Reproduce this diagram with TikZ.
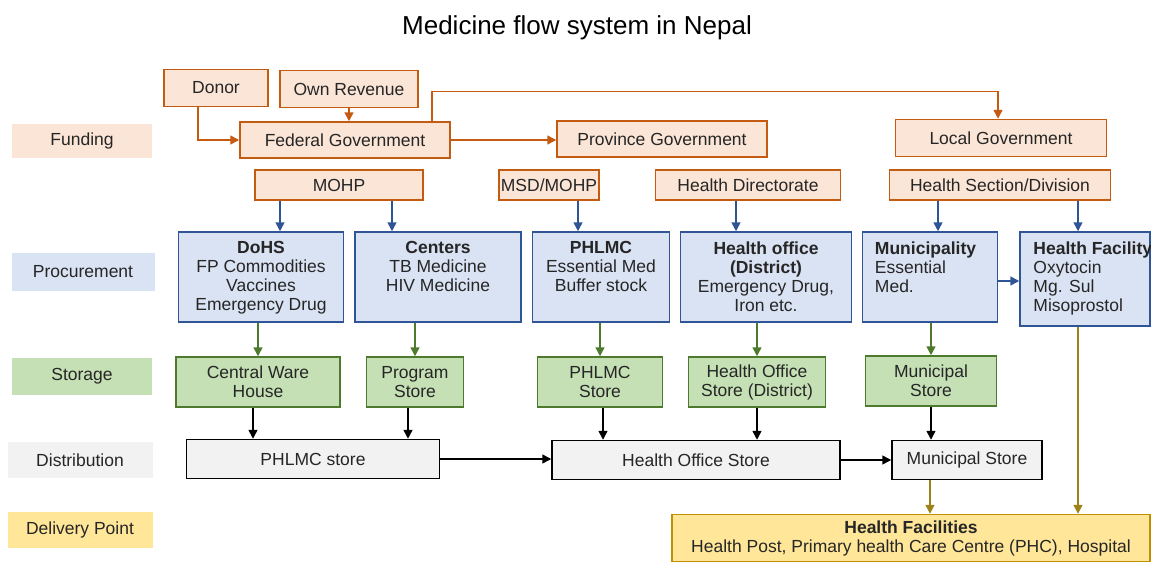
\documentclass[tikz,border=0pt]{standalone}
\usepackage{fontspec}
\setmainfont{Liberation Sans}
\usetikzlibrary{arrows.meta}
\definecolor{fundfill}{HTML}{FBE5D6}
\definecolor{fundline}{HTML}{C55A11}
\definecolor{procfill}{HTML}{DAE3F3}
\definecolor{procline}{HTML}{2F5597}
\definecolor{storfill}{HTML}{C5E0B4}
\definecolor{storline}{HTML}{4E7A2E}
\definecolor{distfill}{HTML}{F2F2F2}
\definecolor{delivfill}{HTML}{FFE699}
\definecolor{delivline}{HTML}{BF9000}
\definecolor{olive}{HTML}{9C8317}
\definecolor{ink}{HTML}{262626}
\begin{document}
\begin{tikzpicture}[x=1pt,y=-1pt,
	>={Triangle[length=9pt,width=9pt]},
	txt/.style={font=\fontsize{17.5}{19}\selectfont,text=ink,align=center,inner sep=0pt},
	box/.style={txt,draw,line width=1.5pt},
	rowname/.style={txt,fill=#1,inner sep=0pt},
	fund/.style={box,draw=fundline,fill=fundfill},
	proc/.style={box,draw=procline,fill=procfill},
	stor/.style={box,draw=storline,fill=storfill},
	dist/.style={box,draw=black,fill=distfill},
	deliv/.style={box,draw=delivline,fill=delivfill},
	fundarrow/.style={->,fundline,line width=1.5pt},
	procarrow/.style={->,procline,line width=1.5pt},
	storarrow/.style={->,storline,line width=1.5pt},
	distarrow/.style={->,black,line width=1.5pt},
	delivarrow/.style={->,olive,line width=1.5pt}]
	\useasboundingbox (0,0) rectangle (1151,562);
	%title
	\node[text=black] (title) at (577,28) {\fontsize{26}{30}\selectfont Medicine flow system in Nepal};
	%row names
	\node[rowname=fundfill,minimum width=140pt,minimum height=34pt] (funding) at (82,141) {Funding};
	\node[rowname=procfill,minimum width=143pt,minimum height=38pt] (procurement) at (83,272) {Procurement};
	\node[rowname=storfill,minimum width=140pt,minimum height=37pt] (storage) at (82,376) {Storage};
	\node[rowname=distfill,minimum width=145pt,minimum height=36pt] (distribution) at (80,460) {Distribution};
	\node[rowname=delivfill,minimum width=145pt,minimum height=36pt] (delivery) at (80,530) {Delivery Point};
	%funding
	\node[fund,minimum width=104pt,minimum height=37pt] (donor) at (216,88) {Donor};
	\node[fund,minimum width=138pt,minimum height=37pt] (ownrev) at (349,89) {Own Revenue};
	\node[fund,minimum width=210pt,minimum height=36pt] (federal) at (345,140) {Federal Government};
	\node[fund,minimum width=210pt,minimum height=36pt] (province) at (662,139) {Province Government};
	\node[fund,minimum width=211pt,minimum height=37pt] (localgov) at (1001,138) {Local Government};
	\node[fund,minimum width=168pt,minimum height=30pt] (mohp) at (339,185) {MOHP};
	\node[fund,minimum width=100pt,minimum height=30pt] (msd) at (549,185) {MSD/MOHP};
	\node[fund,minimum width=185pt,minimum height=30pt] (hdir) at (748,185) {Health Directorate};
	\node[fund,minimum width=221pt,minimum height=30pt] (hsec) at (1000,185) {Health Section/Division};
	\draw[fundarrow] ([xshift=-18pt]donor.south) |- (federal.west);
	\draw[fundarrow] (ownrev.south) -- (ownrev.south |- federal.north);
	\draw[fundarrow] (federal.east) -- (federal.east -| province.west);
	\draw[fundarrow] ([xshift=87pt]federal.north) -- ++(0,-30) -| ([xshift=-3pt]localgov.north);
	%procurement
	\node[proc,minimum width=165pt,minimum height=90pt] (dohs) at (261,277) {};
	\node[txt,anchor=north] at ([yshift=-10pt]dohs.north) {\textbf{DoHS}\\FP Commodities\\Vaccines\\Emergency Drug};
	\node[proc,minimum width=166pt,minimum height=90pt] (centers) at (438,277) {};
	\node[txt,anchor=north] at ([yshift=-10pt]centers.north) {\textbf{Centers}\\TB Medicine\\HIV Medicine};
	\node[proc,minimum width=137pt,minimum height=90pt] (phlmc) at (601,277) {};
	\node[txt,anchor=north] at ([yshift=-10pt]phlmc.north) {\textbf{PHLMC}\\Essential Med\\Buffer stock};
	\node[proc,minimum width=171pt,minimum height=90pt] (hoffice) at (766,277) {};
	\node[txt,anchor=north] at ([yshift=-10pt]hoffice.north) {\textbf{Health office}\\\textbf{(District)}\\Emergency Drug,\\Iron etc.};
	\node[proc,minimum width=135pt,minimum height=90pt] (munic) at (930,277) {};
	\node[txt,align=left,anchor=north west] at ([xshift=13pt,yshift=-10pt]munic.north west) {\textbf{Municipality}\\Essential\\Med.};
	\node[proc,minimum width=130pt,minimum height=94pt] (hfac) at (1085,279) {};
	\node[txt,align=left,anchor=north west] at ([xshift=14pt,yshift=-10pt]hfac.north west) {\textbf{Health Facility}\\Oxytocin\\Mg. Sul\\Misoprostol};
	\draw[procarrow] ([xshift=19pt]dohs.north |- mohp.south) -- ([xshift=19pt]dohs.north);
	\draw[procarrow] ([xshift=-46pt]centers.north |- mohp.south) -- ([xshift=-46pt]centers.north);
	\draw[procarrow] ([xshift=-23pt]phlmc.north |- msd.south) -- ([xshift=-23pt]phlmc.north);
	\draw[procarrow] ([xshift=-30pt]hoffice.north |- hdir.south) -- ([xshift=-30pt]hoffice.north);
	\draw[procarrow] ([xshift=8pt]munic.north |- hsec.south) -- ([xshift=8pt]munic.north);
	\draw[procarrow] ([xshift=-7pt]hfac.north |- hsec.south) -- ([xshift=-7pt]hfac.north);
	\draw[procarrow] ([yshift=-4pt]munic.east) -- ([yshift=-4pt]munic.east -| hfac.west);
	%storage
	\node[stor,minimum width=164pt,minimum height=50pt] (central) at (258,382) {Central Ware\\House};
	\node[stor,minimum width=97pt,minimum height=50pt] (prog) at (415,382) {Program\\Store};
	\node[stor,minimum width=125pt,minimum height=50pt] (phlmcst) at (600,382) {PHLMC\\Store};
	\node[stor,minimum width=137pt,minimum height=50pt] (hoffst) at (757,382) {Health Office\\Store (District)};
	\node[stor,minimum width=131pt,minimum height=50pt] (municst) at (931,381) {Municipal\\Store};
	\foreach \up/\down in {dohs/central,centers/prog,phlmc/phlmcst,hoffice/hoffst,munic/municst}
		\draw[storarrow] (\down.north |- \up.south) -- (\down.north);
	%distribution
	\node[dist,minimum width=253pt,minimum height=39pt] (phlmcdist) at (313,459) {PHLMC store};
	\node[dist,minimum width=288pt,minimum height=39pt] (hodist) at (696,460) {Health Office Store};
	\node[dist,minimum width=150pt,minimum height=39pt] (municdist) at (967,460) {Municipal Store};
	\draw[distarrow] ([xshift=-5pt]central.south) -- ([xshift=-5pt]central.south |- phlmcdist.north);
	\draw[distarrow] ([xshift=-7pt]prog.south) -- ([xshift=-7pt]prog.south |- phlmcdist.north);
	\draw[distarrow] ([xshift=3pt]phlmcst.south) -- ([xshift=3pt]phlmcst.south |- hodist.north);
	\draw[distarrow] (hoffst.south) -- (hoffst.south |- hodist.north);
	\draw[distarrow] (municst.south) -- (municst.south |- municdist.north);
	\draw[distarrow] (phlmcdist.east) -- (phlmcdist.east -| hodist.west);
	\draw[distarrow] (hodist.east) -- (municdist.west);
	%delivery point
	\node[deliv,minimum width=478pt,minimum height=47pt] (hfacs) at (911,538) {\textbf{Health Facilities}\\Health Post, Primary health Care Centre (PHC), Hospital};
	\draw[delivarrow] ([xshift=-37pt]municdist.south) -- ([xshift=-37pt]municdist.south |- hfacs.north);
	\draw[delivarrow] ([xshift=-7pt]hfac.south) -- ([xshift=-7pt]hfac.south |- hfacs.north);
\end{tikzpicture}
\end{document}
